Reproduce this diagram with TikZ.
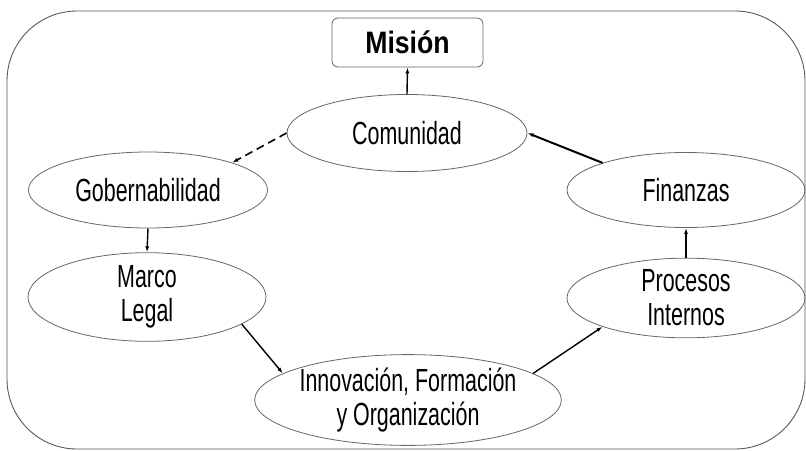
\documentclass[tikz,border=0pt]{standalone}
\usepackage{fontspec}
\setmainfont[FakeStretch=0.67]{Liberation Sans}
\newfontfamily\misfont[FakeStretch=0.86]{Liberation Sans}
\usetikzlibrary{shapes.geometric,arrows.meta}
\begin{document}
\begin{tikzpicture}[x=1pt,y=-1pt,
  elip/.style={ellipse, draw=black!60, line width=0.8pt, inner sep=0pt,
    minimum width=239pt, minimum height=76pt, align=center,
    font=\fontsize{32}{34}\selectfont},
  flecha/.style={-{Latex[length=6pt,width=4pt]}, line width=1.4pt}]
\useasboundingbox (0,0) rectangle (806,450);
\draw[black!65, line width=0.9pt, rounded corners=70pt] (7,11) rectangle (805,449);
\node[draw=black!60, line width=0.8pt, rounded corners=6pt, minimum width=151pt,
  minimum height=49pt, inner sep=0pt, font=\fontsize{31}{34}\misfont\bfseries]
  (mis) at (407.5,42.5) {Misión};
\node[elip, minimum width=240pt, minimum height=77pt] (com) at (407,133) {Comunidad};
\node[elip] (gob) at (148,190) {Gobernabilidad};
\node[elip, minimum width=238pt, minimum height=75pt] (fin) at (686,190) {Finanzas};
\node[elip, minimum width=238pt, minimum height=77pt] (marco) at (147,297) {Marco\\Legal};
\node[elip, minimum width=238pt, minimum height=77pt] (proc) at (686,298) {Procesos\\Internos};
\node[elip, minimum width=300pt] (innov) at (408,400) {Innovación, Formación\\y Organización};
\draw[flecha] (com.north) -- (mis.south);
\draw[flecha, line width=1.6pt, dash pattern=on 8pt off 5pt] (com.west) -- (gob.18);
\draw[flecha] (gob.south) -- (marco.north);
\draw[flecha] (marco.-16) -- (innov.168);
\draw[flecha] (innov.12) -- (proc.-161);
\draw[flecha] (proc.north) -- (fin.south);
\draw[flecha, line width=2pt] (fin.162) -- (com.east);
\end{tikzpicture}
\end{document}
